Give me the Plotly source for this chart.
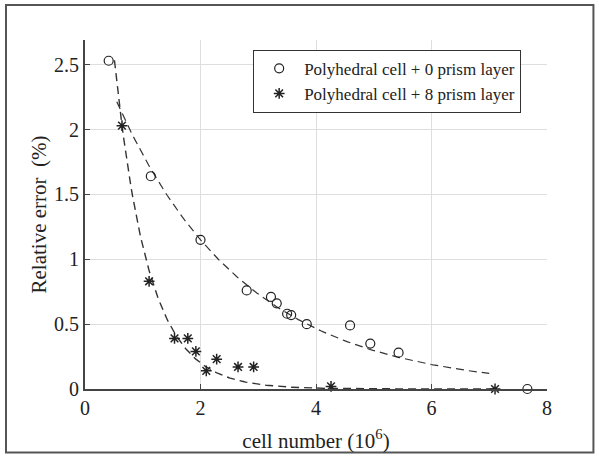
import numpy as np
import plotly.graph_objects as go

# Data
x_prism0 = [0.41, 1.14, 2.00, 2.80, 3.22, 3.32, 3.50, 3.57, 3.84, 4.59, 4.94, 5.43, 7.66]
y_prism0 = [2.53, 1.64, 1.15, 0.76, 0.71, 0.66, 0.58, 0.57, 0.50, 0.49, 0.35, 0.28, 0.00]

x_prism8 = [0.64, 1.11, 1.55, 1.78, 1.92, 2.10, 2.28, 2.65, 2.92, 4.26, 7.10]
y_prism8 = [2.03, 0.83, 0.39, 0.39, 0.29, 0.14, 0.23, 0.17, 0.17, 0.02, 0.00]

# Exponential trend-line parameters (y = a * exp(-b x))
fit0_a, fit0_b, fit0_range = 2.84, 0.452, (0.55, 7.0)
fit8_a, fit8_b, fit8_range = 6.03, 1.70, (0.51, 7.1)

x_ticks = [0, 2, 4, 6, 8]
y_ticks = [0, 0.5, 1, 1.5, 2, 2.5]
y_ticklabels = ["0", "0.5", "1", "1.5", "2", "2.5"]

legend_names = ["Polyhedral cell + 0 prism layer", "Polyhedral cell + 8 prism layer"]

FONT = "Liberation Serif"
INK = "#222222"

fx0 = np.linspace(*fit0_range, 200)
fx8 = np.linspace(*fit8_range, 300)

fig = go.Figure()
fig.add_trace(go.Scatter(x=fx0, y=fit0_a * np.exp(-fit0_b * fx0), mode="lines",
                         line=dict(color="#333333", width=1.2, dash="8px,5px"),
                         showlegend=False, hoverinfo="skip"))
fig.add_trace(go.Scatter(x=fx8, y=fit8_a * np.exp(-fit8_b * fx8), mode="lines",
                         line=dict(color="#333333", width=1.4, dash="8px,5px"),
                         showlegend=False, hoverinfo="skip", cliponaxis=False))
fig.add_trace(go.Scatter(x=x_prism0, y=y_prism0, mode="markers", name=legend_names[0],
                         marker=dict(symbol="circle-open", size=9, color=INK,
                                     line=dict(width=1.2, color=INK)),
                         cliponaxis=False))
fig.add_trace(go.Scatter(x=x_prism8, y=y_prism8, mode="markers", name=legend_names[1],
                         marker=dict(symbol="asterisk-open", size=9, color=INK,
                                     line=dict(width=1.5, color=INK)),
                         cliponaxis=False))

fig.update_layout(
    width=599, height=456,
    margin=dict(l=85, r=52, t=40, b=67),
    paper_bgcolor="white", plot_bgcolor="white",
    font=dict(family=FONT, size=18, color=INK),
    showlegend=True,
    legend=dict(x=0.364, y=0.972, xanchor="left", yanchor="top",
                bgcolor="white", bordercolor="#333333", borderwidth=1,
                font=dict(family=FONT, size=17, color=INK),
                itemwidth=40, tracegroupgap=0),
    xaxis=dict(range=[0, 8], tickvals=x_ticks, showgrid=True, gridcolor="#dedede",
               gridwidth=1, zeroline=False, showline=True, linecolor="#444444",
               linewidth=2, ticks="inside", ticklen=5, tickcolor="#444444",
               automargin=False,
               tickfont=dict(family=FONT, size=20, color=INK),
               title=dict(text="cell number (10<sup>6</sup>)", standoff=15,
                          font=dict(family=FONT, size=21, color=INK))),
    yaxis=dict(range=[0, 2.69], tickvals=y_ticks, ticktext=y_ticklabels, showgrid=True,
               gridcolor="#dedede", gridwidth=1, zeroline=False, showline=True,
               linecolor="#444444", linewidth=2, ticks="inside", ticklen=5,
               tickcolor="#444444", automargin=False,
               tickfont=dict(family=FONT, size=20, color=INK),
               title=dict(text="Relative error\u00a0 (%)", standoff=2,
                          font=dict(family=FONT, size=21, color=INK))),
    shapes=[dict(type="rect", xref="paper", yref="paper",
                 x0=-0.171, x1=1.1005, y0=-0.1817, y1=1.100,
                 line=dict(color="#555555", width=2), fillcolor="rgba(0,0,0,0)")],
)

fig.write_html("out.html")
